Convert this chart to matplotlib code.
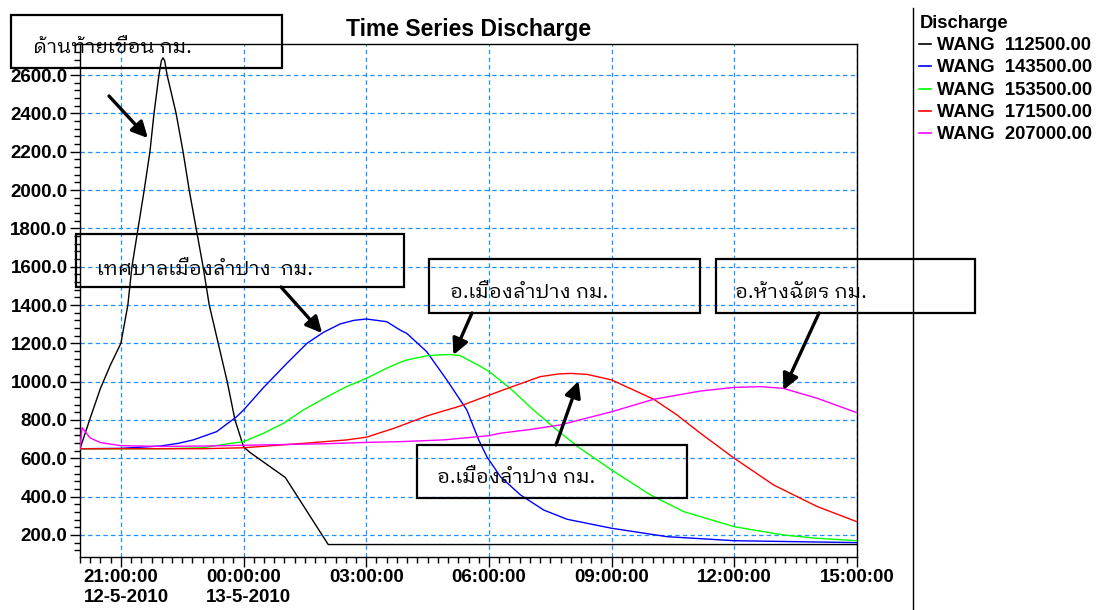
import matplotlib
matplotlib.use("Agg")
import matplotlib.pyplot as plt
import matplotlib.font_manager as fm
from matplotlib.ft2font import FT2Font
from matplotlib.ticker import MultipleLocator, FixedLocator, FuncFormatter
from matplotlib.patches import Rectangle
from matplotlib.lines import Line2D
from matplotlib.transforms import IdentityTransform

# ---------------- data (hours after 12-5-2010 20:00) ----------------
black_t = [0, 0.25, 0.5, 0.75, 1.0, 1.17, 1.27, 1.42, 1.57, 1.71, 1.81, 1.93, 1.99, 2.03, 2.07,
           2.13, 2.35, 2.52, 2.67, 2.84, 3.01, 3.16, 3.38, 3.6, 3.79, 4.0, 4.16, 5.02, 6.07, 19.0]
black_v = [650, 810, 965, 1090, 1200, 1400, 1600, 1800, 2000, 2200, 2400, 2600, 2675, 2690, 2675,
           2600, 2400, 2200, 2000, 1800, 1600, 1400, 1200, 1000, 800, 660, 630, 500, 150, 150]

blue_t = [0, 1, 1.96, 2.4, 2.77, 3.34, 3.83, 4.0, 4.49, 5.06, 5.55, 5.95, 6.36, 6.7, 7.0,
          7.5, 7.83, 7.99, 8.48, 8.97, 9.46, 9.75, 9.95, 10.28, 10.77, 11.34, 11.91,
          13.0, 14.36, 16.0, 19.0]
blue_v = [650, 652, 664, 678, 696, 739, 817, 852, 970, 1096, 1200, 1257, 1301, 1320, 1327,
          1313, 1269, 1252, 1156, 1009, 852, 696, 608, 504, 409, 330, 282,
          235, 191, 170, 160]

green_t = [0, 2, 3, 3.59, 4.0, 4.49, 4.98, 5.46, 6.04, 6.52, 7.0, 7.5, 7.83, 7.99, 8.48,
           8.8, 9.05, 9.3, 9.54, 9.75, 10.01, 10.52, 11.09, 11.66, 12.23, 13.0, 13.95,
           14.76, 16.0, 17.2, 18.0, 19.0]
green_v = [650, 650, 655, 675, 687, 731, 783, 852, 921, 974, 1017, 1070, 1101, 1113, 1135,
           1140, 1141, 1136, 1108, 1085, 1052, 965, 852, 748, 652, 539, 409,
           322, 243, 200, 183, 170]

red_t = [0, 3, 4, 5.46, 6.52, 7.0, 7.67, 8.48, 9.3, 10.01, 10.52, 11.25, 11.7, 11.99,
         12.4, 13.0, 13.54, 14.03, 14.6, 15.17, 16.0, 16.96, 18.03, 19.0]
red_v = [650, 650, 655, 678, 696, 710, 756, 821, 873, 930, 970, 1026, 1040, 1043,
         1038, 1009, 956, 908, 826, 731, 600, 461, 348, 269]

mag_t = [0, 0.05, 0.25, 0.5, 1, 2, 3, 4, 5, 6, 7, 7.83, 8.89, 10.0, 10.28, 11.0, 11.74,
         13.0, 14.03, 15.17, 16.0, 16.64, 17.2, 18.03, 19.0]
mag_v = [650, 760, 706, 682, 666, 662, 664, 668, 672, 676, 683, 687, 696, 718, 731, 750, 774,
         843, 908, 951, 970, 974, 965, 913, 838]

series_labels = ["WANG  112500.00", "WANG  143500.00", "WANG  153500.00",
                 "WANG  171500.00", "WANG  207000.00"]
series_colors = ["#000000", "#0000ff", "#00ff00", "#ff0000", "#ff00ff"]

xtick_hours = [1, 4, 7, 10, 13, 16, 19]
xtick_times = ["21:00:00", "00:00:00", "03:00:00", "06:00:00", "09:00:00", "12:00:00", "15:00:00"]
xtick_dates = ["12-5-2010", "13-5-2010", "", "", "", "", ""]
yticks = [200, 400, 600, 800, 1000, 1200, 1400, 1600, 1800, 2000, 2200, 2400, 2600]

ann_texts = ["ด้านท้ายเขื่อน กม.", "เทศบาลเมืองลำปาง  กม.", "อ.เมืองลำปาง กม.",
             "อ.ห้างฉัตร กม.", "อ.เมืองลำปาง กม."]
ann_tips_t = [1.66, 5.92, 9.13, 17.2, 12.19]
ann_tips_v = [2271, 1254, 1139, 956, 1003]

# ---------------- fonts ----------------
plt.rcParams['font.family'] = ['Liberation Sans', 'DejaVu Sans']


def find_thai_family():
    best = None
    for f in fm.fontManager.ttflist:
        try:
            cm = FT2Font(f.fname).get_charmap()
        except Exception:
            continue
        if 0x0E14 in cm and 0x0E49 in cm:
            score = 0
            if 'Thai' in f.name:
                score += 2
            if 'Looped' in f.name:
                score += 1
            if f.weight in (400, 'normal', 'regular') and f.style == 'normal':
                score += 1
            if best is None or score > best[0]:
                best = (score, f.name)
    return best[1] if best else 'DejaVu Sans'


thai_family = find_thai_family()

# ---------------- figure ----------------
W, H = 1100, 610
fig = plt.figure(figsize=(W / 100, H / 100), dpi=100)
fig.patch.set_facecolor('white')
ax = fig.add_axes([80 / W, 1 - 557 / H, (857 - 80) / W, (557 - 44) / H])

all_t = [black_t, blue_t, green_t, red_t, mag_t]
all_v = [black_v, blue_v, green_v, red_v, mag_v]
for t, v, c in zip(all_t, all_v, series_colors):
    ax.plot(t, v, color=c, lw=1.0, zorder=3, solid_joinstyle='round')

ax.set_xlim(0, 19)
ax.set_ylim(85, 2762)

ax.xaxis.set_major_locator(FixedLocator(xtick_hours))
ax.xaxis.set_minor_locator(MultipleLocator(0.25))
ax.set_xticklabels(xtick_times)
ax.yaxis.set_major_locator(FixedLocator(yticks))
ax.yaxis.set_minor_locator(MultipleLocator(40))
ax.yaxis.set_major_formatter(FuncFormatter(lambda v, p: f"{v:.1f}"))

ax.tick_params(axis='both', which='major', length=7, width=1, labelsize=13.5, pad=2, direction='out')
ax.tick_params(axis='both', which='minor', length=4, width=1, direction='out')
for lbl in ax.get_xticklabels() + ax.get_yticklabels():
    lbl.set_fontweight('bold')

ax.grid(True, which='major', color='#1e90ff', linestyle=(0, (3.5, 2.6)), lw=0.9)
ax.set_axisbelow(True)
for s in ax.spines.values():
    s.set_linewidth(1.0)

ax.set_title("Time Series Discharge", fontsize=16.5, fontweight='bold', pad=6)

# date second line under the first tick labels, left aligned with the time text
fig.canvas.draw()
renderer = fig.canvas.get_renderer()
for lbl, d in zip(ax.get_xticklabels(), xtick_dates):
    if d:
        bb = lbl.get_window_extent(renderer)
        fig.text(bb.x0 / W, (bb.y0 - 3) / H, d, ha='left', va='top',
                 fontsize=13.5, fontweight='bold')

# ---------------- annotation boxes and arrows ----------------
boxes = [(11, 15, 282, 68), (76, 234, 404, 287), (429, 259, 700, 313),
         (716, 259, 975, 313), (417, 445, 687, 498)]
text_pos = [(33, 53), (97, 275), (450, 298), (735, 298), (437, 483)]
tails = [(109, 96), (281, 287), (472, 313), (819, 313), (556, 445)]

for (x0, y0, x1, y1), (tx, ty), txt, (ax0, ay0), tt, tv in zip(
        boxes, text_pos, ann_texts, tails, ann_tips_t, ann_tips_v):
    fig.add_artist(Rectangle((x0, H - y1), x1 - x0, y1 - y0, transform=IdentityTransform(),
                             fill=False, lw=1.6, edgecolor='black', zorder=10))
    fig.text(tx / W, 1 - ty / H, txt, ha='left', va='baseline', fontsize=14.6,
             family=[thai_family, 'DejaVu Sans'], zorder=11)
    ax.annotate('', xy=(tt, tv), xycoords='data', xytext=(ax0, H - ay0),
                textcoords='figure pixels', annotation_clip=False,
                arrowprops=dict(arrowstyle='-|>', color='black', lw=2.4,
                                mutation_scale=24, shrinkA=0, shrinkB=0), zorder=12)

# ---------------- legend panel ----------------
fig.add_artist(Line2D([913 / W, 913 / W], [1 - 8 / H, 0], color='black', lw=1.0))
fig.text(920 / W, 1 - 28 / H, "Discharge", ha='left', va='baseline', fontsize=13.2,
         fontweight='bold')
for i, (lab, c) in enumerate(zip(series_labels, series_colors)):
    yc = 44 + i * 22.3
    fig.add_artist(Line2D([919 / W, 931 / W], [1 - yc / H] * 2, color=c, lw=1.2))
    fig.text(937 / W, 1 - (yc + 6) / H, lab, ha='left', va='baseline', fontsize=13.3,
             fontweight='bold')

fig.savefig("out.png", dpi=100)
